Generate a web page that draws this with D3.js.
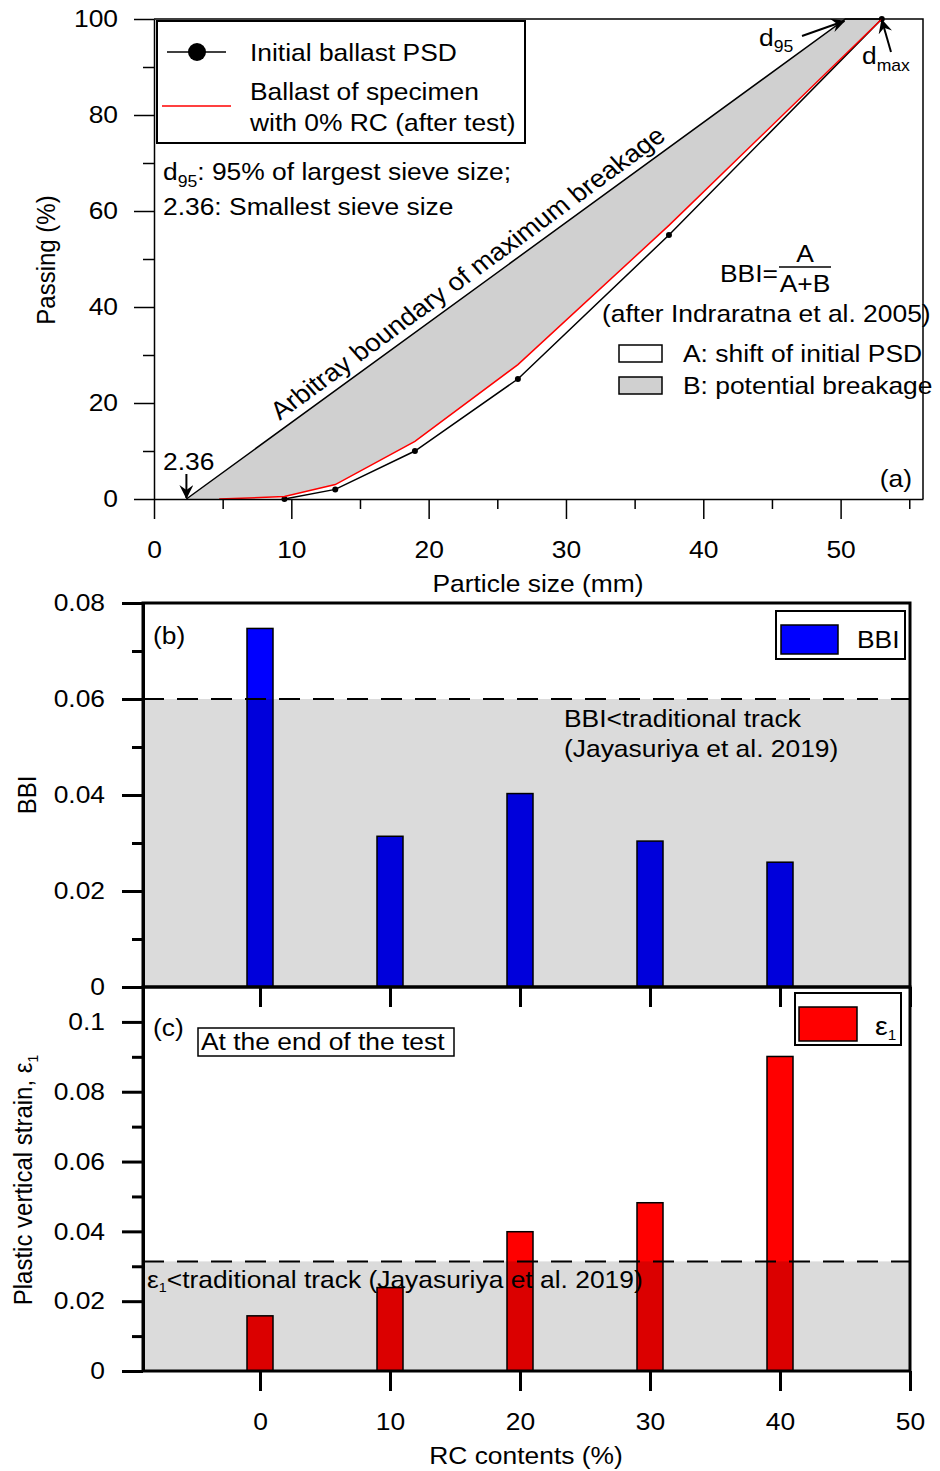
<!DOCTYPE html>
<html>
<head>
<meta charset="utf-8">
<script src="https://cdn.jsdelivr.net/npm/d3@7"></script>
<style>
body { margin: 0; background: #fff; }
text { font-family: "Liberation Sans", Arial, sans-serif; fill: #000; }
</style>
</head>
<body>
<script>
// ---- data: panel (a) particle size distribution ----
const initialSizes = [9.5, 13.2, 19, 26.5, 37.5, 53];
const initialPassing = [0, 2, 10, 25, 55, 100];
const afterSizes = [4.75, 9.5, 13.2, 19, 26.5, 37.5, 53];
const afterPassing = [0, 0.5, 3, 12, 28, 57, 100];
const boundarySizes = [2.36, 50.35];
const boundaryPassing = [0, 100];

// ---- data: panels (b) and (c) ----
const rcContents = [0, 10, 20, 30, 40];
const bbiValues = [0.0747, 0.0314, 0.0403, 0.0304, 0.026];
const strainValues = [0.0158, 0.0239, 0.0399, 0.0482, 0.0901];
const bbiLimit = 0.06;
const strainLimit = 0.0314;

const W = 940, H = 1471;
const FONT = "Liberation Sans, Arial, sans-serif";
const FS = 24;     // font size
const SX = 1.1;    // the original figure is a bit wider than tall

const svg = d3.select("body").append("svg")
    .attr("width", W)
    .attr("height", H);
svg.append("rect").attr("width", W).attr("height", H).attr("fill", "#fff");

const defs = svg.append("defs");
defs.append("marker")
    .attr("id", "arrow")
    .attr("viewBox", "0 0 14 14")
    .attr("refX", 13).attr("refY", 7)
    .attr("markerWidth", 14).attr("markerHeight", 14)
    .attr("markerUnits", "userSpaceOnUse")
    .attr("orient", "auto")
    .append("path")
    .attr("d", "M0,0 L14,7 L0,14 L5,7 Z")
    .attr("fill", "#000");

// text with the horizontal stretch; rot = rotation in degrees
function label(g, x, y, str, anchor, rot) {
    const t = g.append("text")
        .attr("transform", `translate(${x},${y}) scale(${SX},1)` + (rot ? ` rotate(${rot})` : ""))
        .attr("font-size", FS)
        .attr("text-anchor", anchor || "start");
    if (str !== null) t.text(str);
    return t;
}
function sub(t, s, dy, size) {
    t.append("tspan").attr("font-size", size || 16).attr("dy", dy).text(s);
    return t;
}

function styleAxis(g, width) {
    g.attr("font-family", FONT).attr("font-size", FS);
    g.selectAll("line").attr("stroke", "#000").attr("stroke-width", width);
    g.selectAll("path").attr("stroke", "#000").attr("stroke-width", width);
    g.selectAll("text").attr("fill", "#000").each(function() {
        const t = d3.select(this);
        const x = +t.attr("x") || 0, y = +t.attr("y") || 0;
        t.attr("x", 0).attr("y", 0).attr("transform", `translate(${x},${y}) scale(${SX},1)`);
    });
}

// =================== panel (a) ===================
const xA = d3.scaleLinear().domain([0, 56]).range([154, 923]);
const yA = d3.scaleLinear().domain([0, 100]).range([499, 19]);
const gA = svg.append("g");

const linePts = d3.line().x(d => xA(d[0])).y(d => yA(d[1]));

// grey area: between boundary line and after-test curve
const afterPts = afterSizes.map((s, i) => [s, afterPassing[i]]);
const polyPts = [[boundarySizes[0], boundaryPassing[0]], [boundarySizes[1], boundaryPassing[1]]]
    .concat(afterPts.slice().reverse());
gA.append("path")
    .attr("d", linePts(polyPts) + "Z")
    .attr("fill", "#d0d0d0")
    .attr("stroke", "none");

// boundary line
gA.append("path")
    .attr("d", linePts([[boundarySizes[0], 0], [boundarySizes[1], 100], [53, 100]]))
    .attr("fill", "none").attr("stroke", "#000").attr("stroke-width", 1.5);

// initial PSD
const initPts = initialSizes.map((s, i) => [s, initialPassing[i]]);
gA.append("path")
    .attr("d", linePts(initPts))
    .attr("fill", "none").attr("stroke", "#000").attr("stroke-width", 1.5);
gA.selectAll(".dot").data(initPts).enter().append("circle")
    .attr("cx", d => xA(d[0])).attr("cy", d => yA(d[1]))
    .attr("r", 3).attr("fill", "#000");

// after test
gA.append("path")
    .attr("d", linePts(afterPts))
    .attr("fill", "none").attr("stroke", "#ff0000").attr("stroke-width", 1.5);

// frame (top / right)
gA.append("path")
    .attr("d", `M${xA(0)},${yA(100)}H${xA(56)}V${yA(0)}`)
    .attr("fill", "none").attr("stroke", "#000").attr("stroke-width", 1.5);

// axes
const axAx = gA.append("g").attr("transform", `translate(0,${yA(0)})`)
    .call(d3.axisBottom(xA).tickValues(d3.range(0, 51, 10)).tickSize(20).tickPadding(22).tickSizeOuter(0));
styleAxis(axAx, 1.5);
const axAxm = gA.append("g").attr("transform", `translate(0,${yA(0)})`)
    .call(d3.axisBottom(xA).tickValues(d3.range(5, 56, 10)).tickSize(10).tickFormat(""));
axAxm.select(".domain").remove();
styleAxis(axAxm, 1.5);

const axAy = gA.append("g").attr("transform", `translate(${xA(0)},0)`)
    .call(d3.axisLeft(yA).tickValues(d3.range(0, 101, 20)).tickSize(20).tickPadding(16).tickSizeOuter(0));
styleAxis(axAy, 1.5);
const axAym = gA.append("g").attr("transform", `translate(${xA(0)},0)`)
    .call(d3.axisLeft(yA).tickValues(d3.range(10, 100, 20)).tickSize(11).tickFormat(""));
axAym.select(".domain").remove();
styleAxis(axAym, 1.5);

label(gA, 538, 592, "Particle size (mm)", "middle");
label(gA, 55, 260, "Passing (%)", "middle", -90);

// legend (a)
gA.append("rect").attr("x", 157).attr("y", 21).attr("width", 368).attr("height", 122)
    .attr("fill", "#fff").attr("stroke", "#000").attr("stroke-width", 2);
gA.append("line").attr("x1", 167).attr("x2", 226).attr("y1", 52).attr("y2", 52)
    .attr("stroke", "#000").attr("stroke-width", 1.5);
gA.append("circle").attr("cx", 197).attr("cy", 52).attr("r", 9).attr("fill", "#000");
label(gA, 250, 61, "Initial ballast PSD");
gA.append("line").attr("x1", 162).attr("x2", 231).attr("y1", 106).attr("y2", 106)
    .attr("stroke", "#ff0000").attr("stroke-width", 1.5);
label(gA, 250, 100, "Ballast of specimen");
label(gA, 250, 131, "with 0% RC (after test)");

// notes
const n1 = label(gA, 163, 180, "d");
sub(n1, "95", 7);
n1.append("tspan").attr("dy", -7).text(": 95% of largest sieve size;");
label(gA, 163, 215, "2.36: Smallest sieve size");

// boundary label along the line (angle corrected for the stretch)
const dxL = (xA(boundarySizes[1]) - xA(boundarySizes[0])) / SX;
const dyL = yA(100) - yA(0);
const ang = Math.atan2(dyL, dxL) * 180 / Math.PI;
const tL = 0.15;
const lx = xA(boundarySizes[0] + tL * (boundarySizes[1] - boundarySizes[0]));
const ly = yA(tL * 100);
const bl = label(gA, lx, ly, "Arbitray boundary of maximum breakage", "start", ang);
bl.attr("dy", -8).attr("font-size", 25);

// annotations with arrows
label(gA, 163, 470, "2.36");
gA.append("line").attr("x1", xA(2.36)).attr("x2", xA(2.36)).attr("y1", 474).attr("y2", yA(0) - 1)
    .attr("stroke", "#000").attr("stroke-width", 2).attr("marker-end", "url(#arrow)");
sub(label(gA, 759, 46, "d"), "95", 6);
gA.append("line").attr("x1", 802).attr("y1", 36).attr("x2", xA(boundarySizes[1]) - 1).attr("y2", yA(100) + 2)
    .attr("stroke", "#000").attr("stroke-width", 2).attr("marker-end", "url(#arrow)");
sub(label(gA, 862, 64, "d"), "max", 7);
gA.append("line").attr("x1", 891).attr("y1", 52).attr("x2", xA(53)).attr("y2", yA(100) + 1)
    .attr("stroke", "#000").attr("stroke-width", 2).attr("marker-end", "url(#arrow)");

// BBI formula
label(gA, 720, 282, "BBI=");
label(gA, 805, 262, "A", "middle");
gA.append("line").attr("x1", 779).attr("x2", 831).attr("y1", 267).attr("y2", 267)
    .attr("stroke", "#000").attr("stroke-width", 1.5);
label(gA, 805, 292, "A+B", "middle");
label(gA, 602, 322, "(after Indraratna et al. 2005)");
gA.append("rect").attr("x", 619).attr("y", 345).attr("width", 43).attr("height", 17)
    .attr("fill", "#fff").attr("stroke", "#000").attr("stroke-width", 1.5);
label(gA, 683, 362, "A: shift of initial PSD");
gA.append("rect").attr("x", 619).attr("y", 377).attr("width", 43).attr("height", 17)
    .attr("fill", "#d0d0d0").attr("stroke", "#000").attr("stroke-width", 1.5);
label(gA, 683, 394, "B: potential breakage");
label(gA, 912, 487, "(a)", "end");

// =================== panels (b) and (c) ===================
const xB = d3.scaleLinear().domain([-9, 50]).range([143, 910]);
const barW = xB(1) - xB(-1);

function barPanel(opts) {
    const { y, values, limit, color, ticks, minor } = opts;
    const g = svg.append("g");
    g.selectAll(".bar").data(values).enter().append("rect")
        .attr("x", (d, i) => xB(rcContents[i]) - barW / 2)
        .attr("width", barW)
        .attr("y", d => y(d))
        .attr("height", d => y(0) - y(d))
        .attr("fill", color)
        .attr("stroke", "#000").attr("stroke-width", 1.5);
    // shaded zone (tint over everything below the limit)
    g.append("rect")
        .attr("x", xB(-9)).attr("width", xB(50) - xB(-9))
        .attr("y", y(limit)).attr("height", y(0) - y(limit))
        .attr("fill", "#000").attr("fill-opacity", 0.14);
    g.append("line")
        .attr("x1", xB(-9)).attr("x2", xB(50))
        .attr("y1", y(limit)).attr("y2", y(limit))
        .attr("stroke", "#000").attr("stroke-width", 2)
        .attr("stroke-dasharray", "21,13");
    // frame
    g.append("rect")
        .attr("x", xB(-9)).attr("width", xB(50) - xB(-9))
        .attr("y", y.range()[1]).attr("height", y.range()[0] - y.range()[1])
        .attr("fill", "none").attr("stroke", "#000").attr("stroke-width", 3);
    const ax = g.append("g").attr("transform", `translate(${xB(-9)},0)`)
        .call(d3.axisLeft(y).tickValues(ticks).tickSize(21).tickPadding(17)
            .tickSizeOuter(0).tickFormat(d3.format("~g")));
    styleAxis(ax, 3);
    const axm = g.append("g").attr("transform", `translate(${xB(-9)},0)`)
        .call(d3.axisLeft(y).tickValues(minor).tickSize(11).tickFormat(""));
    axm.select(".domain").remove();
    styleAxis(axm, 3);
    const axx = g.append("g").attr("transform", `translate(0,${y(0)})`)
        .call(d3.axisBottom(xB).tickValues(d3.range(0, 51, 10)).tickSize(20)
            .tickSizeOuter(0).tickFormat(opts.xLabels ? d3.format("d") : ""));
    axx.selectAll(".tick text").attr("y", 42);
    axx.select(".domain").remove();
    styleAxis(axx, 3);
    return g;
}

// (b)
const yB = d3.scaleLinear().domain([0, 0.08]).range([987, 603]);
const gB = barPanel({
    y: yB, values: bbiValues, limit: bbiLimit, color: "#0000ff",
    ticks: [0, 0.02, 0.04, 0.06, 0.08], minor: [0.01, 0.03, 0.05, 0.07]
});
label(gB, 36, 795, "BBI", "middle", -90);
label(gB, 153, 644, "(b)");
gB.append("rect").attr("x", 776).attr("y", 611).attr("width", 129).attr("height", 48)
    .attr("fill", "#fff").attr("stroke", "#000").attr("stroke-width", 2);
gB.append("rect").attr("x", 781).attr("y", 625).attr("width", 57).attr("height", 29)
    .attr("fill", "#0000ff").attr("stroke", "#000").attr("stroke-width", 1.5);
label(gB, 857, 648, "BBI");
label(gB, 564, 727, "BBI<traditional track");
label(gB, 564, 757, "(Jayasuriya et al. 2019)");

// (c)
const yC = d3.scaleLinear().domain([0, 0.11]).range([1371, 987]);
const gC = barPanel({
    y: yC, values: strainValues, limit: strainLimit, color: "#ff0000",
    ticks: [0, 0.02, 0.04, 0.06, 0.08, 0.1], minor: [0.01, 0.03, 0.05, 0.07, 0.09],
    xLabels: true
});
const yl = label(gC, 32, 1180, "Plastic vertical strain, \u03b5", "middle", -90);
sub(yl, "1", 5, 14);
label(gC, 526, 1464, "RC contents (%)", "middle");
label(gC, 153, 1036, "(c)");
gC.append("rect").attr("x", 198).attr("y", 1028).attr("width", 256).attr("height", 28)
    .attr("fill", "none").attr("stroke", "#000").attr("stroke-width", 1.5);
label(gC, 201, 1050, "At the end of the test");
gC.append("rect").attr("x", 795).attr("y", 993).attr("width", 106).attr("height", 52)
    .attr("fill", "#fff").attr("stroke", "#000").attr("stroke-width", 2);
gC.append("rect").attr("x", 799).attr("y", 1007).attr("width", 58).attr("height", 34)
    .attr("fill", "#ff0000").attr("stroke", "#000").attr("stroke-width", 1.5);
const eps = label(gC, 875, 1035, "\u03b5");
eps.attr("font-size", 26);
sub(eps, "1", 5, 14);
const tt = label(gC, 147, 1288, "\u03b5");
sub(tt, "1", 4, 13);
tt.append("tspan").attr("dy", -4).text("<traditional track (Jayasuriya et al. 2019)");
</script>
</body>
</html>
